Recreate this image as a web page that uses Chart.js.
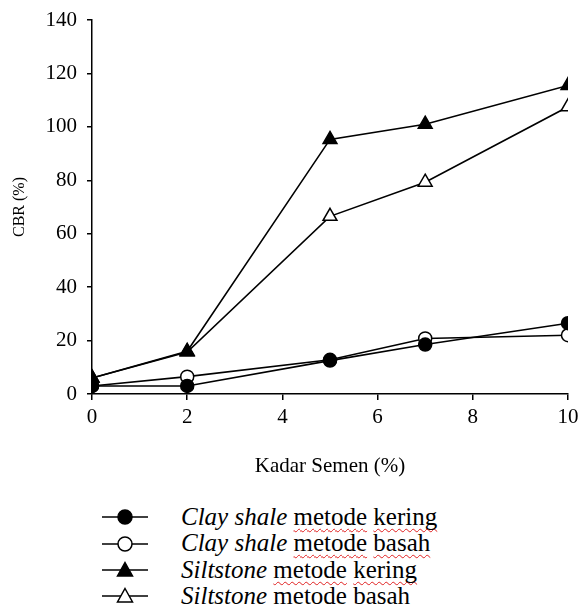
<!DOCTYPE html>
<html>
<head>
<meta charset="utf-8">
<script src="https://cdn.jsdelivr.net/npm/chart.js@4.4.1/dist/chart.umd.min.js"></script>
<style>
  body { margin: 0; background: #fff; font-family: "Liberation Serif", "Times New Roman", serif; }
  #wrap { position: relative; width: 580px; height: 607px; overflow: hidden; }
  #grafik { position: absolute; left: 0; top: 0; }
  #legenda { position: absolute; left: 100px; top: 504px; font-size: 25px; color: #000; }
  .row { height: 26.3px; line-height: 26.3px; white-space: nowrap; }
  .row svg { vertical-align: middle; margin-right: 31px; position: relative; top: -2px; }
  .salah { text-decoration: underline wavy #e02020; text-decoration-skip-ink: none; text-underline-offset: 3px; text-decoration-thickness: 1.2px; }
</style>
</head>
<body>
<div id="wrap">
  <canvas id="grafik" width="580" height="480"></canvas>
  <div id="legenda"></div>
</div>
<script>
// Kadar semen (%) dan nilai CBR (%)
const kadarSemen = [0, 2, 5, 7, 10];
const clayKering = [3, 3, 12.5, 18.5, 26.5];
const clayBasah = [3, 6.5, 12.8, 20.8, 22];
const siltKering = [6, 16, 95.3, 101, 115.5];
const siltBasah = [6, 15.7, 66.5, 79.3, 107.5];
const yTicks = [0, 20, 40, 60, 80, 100, 120, 140];
const xTicks = [0, 2, 4, 6, 8, 10];

const seri = [
    { nama: 'Clay shale', metode: 'metode kering', data: clayKering, bentuk: 'circle', isi: '#000', garis: true },
    { nama: 'Clay shale', metode: 'metode basah', data: clayBasah, bentuk: 'circle', isi: '#fff', garis: true },
    { nama: 'Siltstone', metode: 'metode kering', data: siltKering, bentuk: 'triangle', isi: '#000', garis: true },
    { nama: 'Siltstone', metode: 'metode basah', data: siltBasah, bentuk: 'triangle', isi: '#fff', garis: false }
];

const fontSerif = "'Liberation Serif', 'Times New Roman', serif";

let ctx = document.getElementById('grafik').getContext('2d');

let grafik = new Chart(ctx, {
    type: 'line',
    data: {
        datasets: seri.map(s => ({
            label: s.nama + ' ' + s.metode,
            data: kadarSemen.map((x, i) => ({ x: x, y: s.data[i] })),
            borderColor: '#000',
            borderWidth: 1.6,
            backgroundColor: s.isi,
            pointStyle: s.bentuk,
            pointRadius: s.bentuk === 'circle' ? 6.5 : 8,
            pointBorderWidth: 1.5,
            pointBorderColor: '#000',
            pointBackgroundColor: s.isi,
            tension: 0
        }))
    },
    options: {
        responsive: false,
        animation: false,
        layout: { padding: { top: 20, right: 12, bottom: 0, left: 0 } },
        plugins: {
            legend: { display: false },
            tooltip: { enabled: false }
        },
        scales: {
            x: {
                type: 'linear',
                min: 0,
                max: 10,
                afterBuildTicks: scale => { scale.ticks = xTicks.map(v => ({ value: v })); },
                afterFit: scale => {
                    scale.height = 86;
                    scale.paddingLeft = 0;
                    scale.paddingRight = 0;
                },
                grid: { drawOnChartArea: false, drawTicks: true, tickLength: 6, color: '#000', lineWidth: 1.5 },
                border: { display: true, color: '#000', width: 1.5 },
                ticks: { color: '#000', padding: 5, maxRotation: 0, font: { family: fontSerif, size: 21 } },
                title: {
                    display: true,
                    text: 'Kadar Semen (%)',
                    color: '#000',
                    font: { family: fontSerif, size: 21 },
                    padding: { top: 0, bottom: 1 }
                }
            },
            y: {
                min: 0,
                max: 140,
                afterBuildTicks: scale => { scale.ticks = yTicks.map(v => ({ value: v })); },
                afterFit: scale => {
                    scale.width = 92;
                    scale.paddingTop = 0;
                    scale.paddingBottom = 0;
                },
                grid: { drawOnChartArea: false, drawTicks: true, tickLength: 5, color: '#000', lineWidth: 1.5 },
                border: { display: true, color: '#000', width: 1.5 },
                ticks: { color: '#000', padding: 10, font: { family: fontSerif, size: 21 } },
                title: {
                    display: true,
                    text: 'CBR (%)',
                    color: '#000',
                    font: { family: fontSerif, size: 16 },
                    padding: { top: 10, bottom: 0 }
                }
            }
        }
    }
});

// Legenda manual di bawah grafik
let legenda = document.getElementById('legenda');
seri.forEach(s => {
    let row = document.createElement('div');
    row.className = 'row';
    let simbol;
    if (s.bentuk === 'circle') {
        simbol = '<circle cx="25" cy="10" r="7" fill="' + s.isi + '" stroke="#000" stroke-width="1.5"/>';
    } else {
        simbol = '<polygon points="25,2.5 32.5,16 17.5,16" fill="' + s.isi + '" stroke="#000" stroke-width="1.5"/>';
    }
    let kata = s.metode.split(' ').map(k => s.garis ? '<span class="salah">' + k + '</span>' : k).join(' ');
    row.innerHTML = '<svg width="50" height="20"><line x1="2" y1="10" x2="48" y2="10" stroke="#000" stroke-width="1.6"/>' +
        simbol + '</svg><i>' + s.nama + '</i> ' + kata;
    legenda.appendChild(row);
});
</script>
</body>
</html>
